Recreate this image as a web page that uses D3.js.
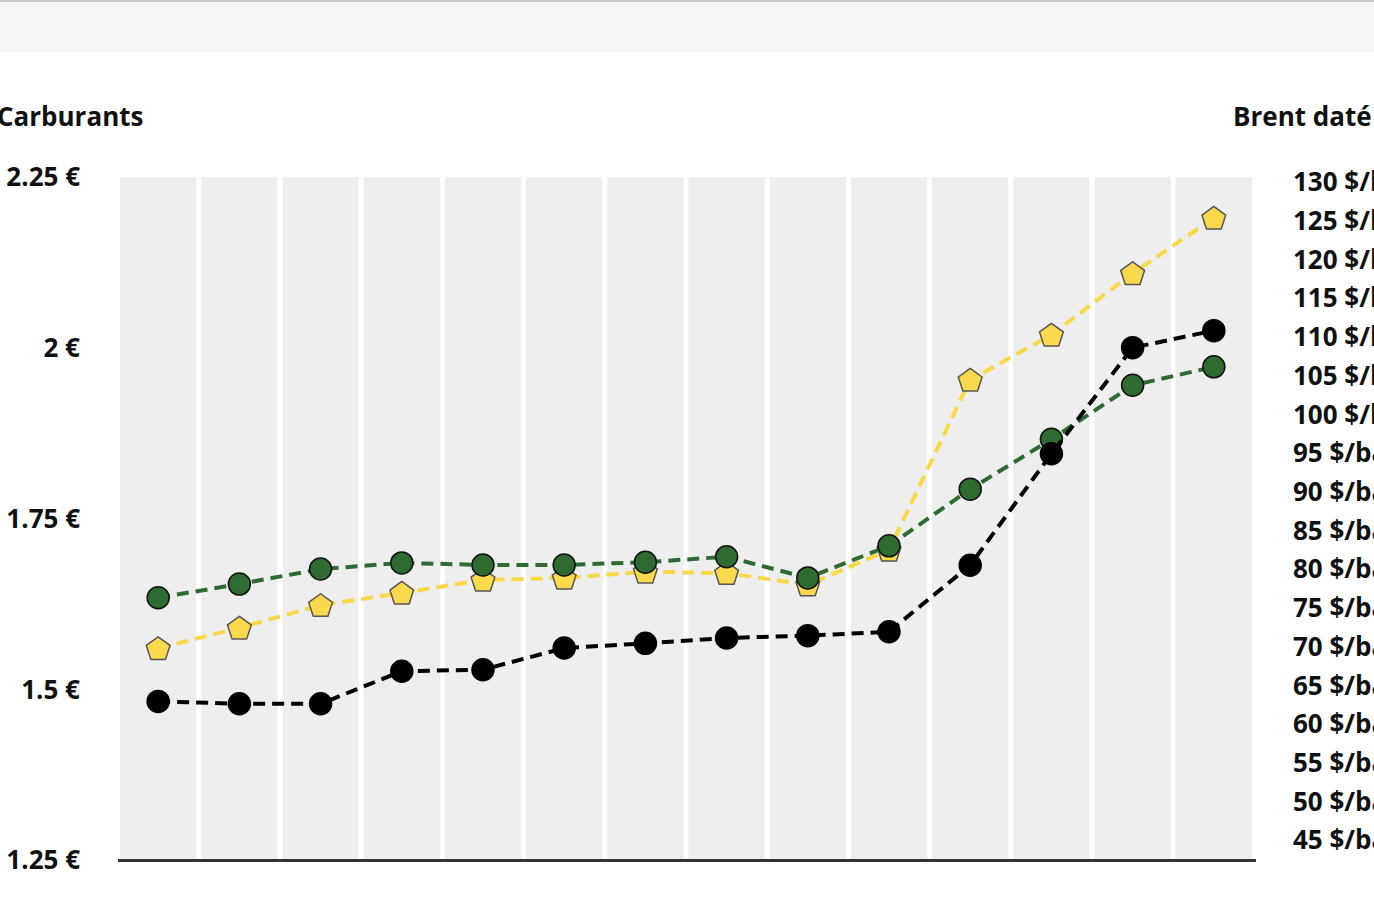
<!DOCTYPE html>
<html><head><meta charset="utf-8">
<script src="https://cdn.jsdelivr.net/npm/d3@7"></script>
<style>
html,body{margin:0;padding:0;background:#fff;overflow:hidden;}
text{font-family:"Open Sans","Noto Sans",sans-serif;font-weight:700;fill:#111;}
</style></head>
<body>
<svg id="chart" width="1374" height="916"></svg>
<script>
const categories = ["P1","P2","P3","P4","P5","P6","P7","P8","P9","P10","P11","P12","P13","P14"];
const gazole = [1.634,1.654,1.676,1.685,1.682,1.682,1.686,1.694,1.663,1.710,1.793,1.866,1.945,1.972];
const sp95 = [1.560,1.590,1.623,1.641,1.660,1.663,1.672,1.670,1.653,1.704,1.953,2.019,2.109,2.190];
const brent = [62.9,62.6,62.6,66.8,67.0,69.8,70.4,71.1,71.4,71.9,80.5,94.9,108.6,110.8];
const leftTicks = [1.25,1.5,1.75,2,2.25];
const leftTickLabels = ["1.25 €","1.5 €","1.75 €","2 €","2.25 €"];
const rightTicks = [45,50,55,60,65,70,75,80,85,90,95,100,105,110,115,120,125,130];
const leftTitle = "Carburants";
const rightTitle = "Brent daté";

const svg = d3.select("#chart");

// header strip
svg.append("rect").attr("x",0).attr("y",0).attr("width",1374).attr("height",52).attr("fill","#f5f5f5");
svg.append("rect").attr("x",0).attr("y",0).attr("width",1374).attr("height",2).attr("fill","#c8c8c8");

const plotTop = 177, plotBottom = 860;

const x = d3.scaleBand().domain(categories).range([120, 1252]).paddingInner(0.06).paddingOuter(0);
const yL = d3.scaleLinear().domain([1.25,2.25]).range([plotBottom, plotTop]);
const yR = d3.scaleLinear().domain([45,130]).range([840,182]);

// bands
svg.append("g").selectAll("rect").data(categories).join("rect")
  .attr("x", d=>x(d)).attr("y", plotTop).attr("width", x.bandwidth()).attr("height", plotBottom-plotTop)
  .attr("fill","#eeeeee");

// baseline
svg.append("line").attr("x1",118).attr("x2",1256).attr("y1",860.5).attr("y2",860.5)
  .attr("stroke","#333").attr("stroke-width",3);

// left axis labels
svg.append("g").selectAll("text").data(leftTicks).join("text")
  .attr("x",80).attr("y",d=>yL(d)).attr("dy","0.36em").attr("text-anchor","end")
  .attr("font-size",26).text((d,i)=>leftTickLabels[i]);
svg.append("text").attr("x",-3).attr("y",126).attr("font-size",26).text(leftTitle);

// right axis labels
svg.append("g").selectAll("text").data(rightTicks).join("text")
  .attr("x",1293).attr("y",d=>yR(d)).attr("dy","0.36em").attr("text-anchor","start")
  .attr("font-size",26).text(d=>d+" $/baril");
svg.append("text").attr("x",1233).attr("y",126).attr("font-size",26).text(rightTitle);

const cx = d=>x(d)+x.bandwidth()/2;

function pentagon(r){
  const pts=[];
  for(let k=0;k<5;k++){const a=-Math.PI/2+k*2*Math.PI/5;pts.push([r*Math.cos(a),r*Math.sin(a)]);}
  return "M"+pts.map(p=>p.join(",")).join("L")+"Z";
}

function series(vals, scale, color, marker, fill, stroke){
  const g = svg.append("g");
  const line = d3.line().x((d,i)=>cx(categories[i])).y(d=>scale(d));
  g.append("path").attr("d",line(vals)).attr("fill","none").attr("stroke",color)
    .attr("stroke-width",4).attr("stroke-dasharray","12,7");
  if(marker==="circle"){
    g.selectAll("circle").data(vals).join("circle")
      .attr("cx",(d,i)=>cx(categories[i])).attr("cy",d=>scale(d)).attr("r",11)
      .attr("fill",fill).attr("stroke",stroke).attr("stroke-width",1.5);
  } else {
    g.selectAll("path.m").data(vals).join("path").attr("class","m")
      .attr("transform",(d,i)=>`translate(${cx(categories[i])},${scale(d)+1})`)
      .attr("d",pentagon(12.5)).attr("fill",fill).attr("stroke",stroke).attr("stroke-width",1.5)
      .attr("stroke-linejoin","round");
  }
}

series(sp95, yL, "#f9d949", "pentagon", "#fbd94c", "#555");
series(gazole, yL, "#2e6b30", "circle", "#2e6b30", "#111");
series(brent, yR, "#000", "circle", "#000", "#000");
</script>
</body></html>
